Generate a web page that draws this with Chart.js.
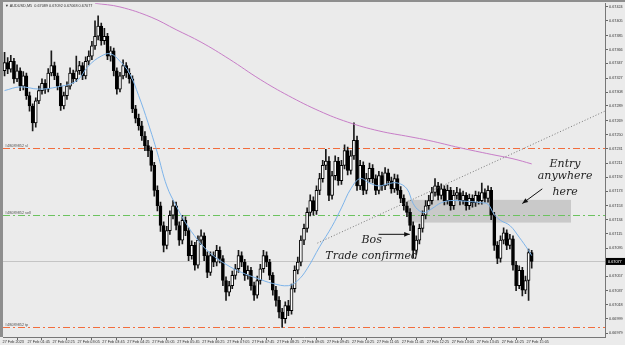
<!DOCTYPE html>
<html><head><meta charset="utf-8">
<script src="https://cdn.jsdelivr.net/npm/chart.js@4/dist/chart.umd.min.js"></script>
<style>html,body{margin:0;padding:0;background:#ebebeb;overflow:hidden}</style>
</head><body>
<canvas id="c" width="625" height="345"></canvas>
<script>
// ---------- DATA ----------
const symbolTitle = "AUDUSD,M5  0.67089 0.67092 0.67068 0.67077";
const orderId = "#48089852";
const timeLabels = ["27 Feb 2023","27 Feb 01:45","27 Feb 02:25","27 Feb 03:05","27 Feb 03:45","27 Feb 04:25","27 Feb 05:05","27 Feb 05:45","27 Feb 06:25","27 Feb 07:05","27 Feb 07:45","27 Feb 08:25","27 Feb 09:05","27 Feb 09:45","27 Feb 10:25","27 Feb 11:05","27 Feb 11:45","27 Feb 12:25","27 Feb 13:05","27 Feb 13:45","27 Feb 14:25","27 Feb 15:05"];
const yTickValues = [0.67424,0.67405,0.67385,0.67366,0.67347,0.67327,0.67308,0.67289,0.67269,0.67250,0.67231,0.67211,0.67192,0.67173,0.67153,0.67134,0.67115,0.67095,0.67076,0.67057,0.67037,0.67018,0.66999,0.66979];

const opens = [0.67337,0.67348,0.67339,0.67350,0.67326,0.67337,0.67316,0.67330,0.67303,0.67289,
0.67266,0.67296,0.67310,0.67320,0.67312,0.67334,0.67344,0.67330,0.67316,0.67289,
0.67303,0.67316,0.67334,0.67326,0.67337,0.67344,0.67330,0.67350,0.67357,0.67371,
0.67384,0.67398,0.67378,0.67384,0.67357,0.67364,0.67337,0.67312,0.67330,0.67344,
0.67334,0.67326,0.67285,0.67272,0.67262,0.67248,0.67235,0.67228,0.67208,0.67174,
0.67153,0.67126,0.67099,0.67119,0.67140,0.67153,0.67126,0.67106,0.67133,0.67119,
0.67085,0.67099,0.67072,0.67106,0.67112,0.67085,0.67062,0.67085,0.67076,0.67092,
0.67081,0.67051,0.67035,0.67044,0.67058,0.67067,0.67085,0.67076,0.67058,0.67065,
0.67044,0.67031,0.67051,0.67067,0.67085,0.67076,0.67058,0.67038,0.67024,0.67008,
0.66999,0.67017,0.67010,0.67040,0.67065,0.67076,0.67106,0.67122,0.67144,0.67160,
0.67146,0.67174,0.67190,0.67208,0.67214,0.67167,0.67194,0.67214,0.67187,0.67208,
0.67228,0.67201,0.67221,0.67242,0.67180,0.67208,0.67174,0.67190,0.67204,0.67190,
0.67174,0.67194,0.67180,0.67198,0.67187,0.67176,0.67190,0.67174,0.67163,0.67153,
0.67144,0.67126,0.67092,0.67106,0.67122,0.67140,0.67153,0.67160,0.67171,0.67180,
0.67167,0.67176,0.67160,0.67174,0.67153,0.67167,0.67171,0.67160,0.67167,0.67153,
0.67163,0.67157,0.67167,0.67160,0.67171,0.67163,0.67174,0.67140,0.67099,0.67081,
0.67106,0.67116,0.67099,0.67108,0.67072,0.67044,0.67065,0.67038,0.67051,0.67089];

const highs = [0.67362,0.67355,0.67358,0.67354,0.67345,0.67341,0.67336,0.67334,0.67308,0.67292,
0.67300,0.67316,0.67326,0.67325,0.67340,0.67364,0.67349,0.67334,0.67320,0.67308,
0.67322,0.67341,0.67338,0.67357,0.67350,0.67348,0.67356,0.67364,0.67377,0.67405,
0.67412,0.67402,0.67395,0.67388,0.67370,0.67368,0.67341,0.67335,0.67352,0.67348,
0.67340,0.67330,0.67290,0.67278,0.67268,0.67254,0.67242,0.67233,0.67212,0.67180,
0.67158,0.67131,0.67125,0.67146,0.67160,0.67158,0.67131,0.67140,0.67138,0.67123,
0.67105,0.67103,0.67112,0.67120,0.67116,0.67090,0.67090,0.67090,0.67099,0.67097,
0.67085,0.67056,0.67050,0.67064,0.67073,0.67092,0.67090,0.67080,0.67071,0.67069,
0.67049,0.67057,0.67073,0.67092,0.67090,0.67080,0.67062,0.67043,0.67029,0.67013,
0.67022,0.67024,0.67046,0.67071,0.67083,0.67112,0.67128,0.67150,0.67168,0.67165,
0.67180,0.67197,0.67215,0.67230,0.67220,0.67200,0.67221,0.67219,0.67215,0.67236,
0.67233,0.67228,0.67266,0.67248,0.67215,0.67213,0.67197,0.67211,0.67209,0.67195,
0.67200,0.67199,0.67205,0.67203,0.67192,0.67196,0.67195,0.67179,0.67168,0.67158,
0.67149,0.67131,0.67112,0.67128,0.67146,0.67160,0.67167,0.67178,0.67190,0.67185,
0.67183,0.67180,0.67181,0.67178,0.67174,0.67178,0.67176,0.67173,0.67171,0.67169,
0.67168,0.67173,0.67172,0.67184,0.67176,0.67180,0.67178,0.67144,0.67104,0.67112,
0.67123,0.67120,0.67114,0.67112,0.67077,0.67071,0.67069,0.67057,0.67094,0.67092];

const lows = [0.67330,0.67333,0.67335,0.67320,0.67322,0.67310,0.67311,0.67298,0.67282,0.67255,
0.67260,0.67292,0.67305,0.67306,0.67308,0.67330,0.67325,0.67311,0.67283,0.67285,
0.67298,0.67312,0.67320,0.67322,0.67332,0.67325,0.67326,0.67345,0.67352,0.67366,
0.67379,0.67372,0.67373,0.67352,0.67350,0.67330,0.67305,0.67308,0.67326,0.67328,
0.67320,0.67280,0.67266,0.67256,0.67242,0.67228,0.67220,0.67200,0.67166,0.67146,
0.67118,0.67090,0.67094,0.67114,0.67135,0.67120,0.67099,0.67101,0.67112,0.67078,
0.67080,0.67065,0.67068,0.67100,0.67078,0.67055,0.67058,0.67070,0.67071,0.67075,
0.67044,0.67024,0.67030,0.67040,0.67053,0.67062,0.67070,0.67051,0.67053,0.67038,
0.67024,0.67027,0.67046,0.67062,0.67070,0.67052,0.67031,0.67016,0.67000,0.66987,
0.66993,0.67003,0.67005,0.67035,0.67060,0.67071,0.67100,0.67117,0.67139,0.67140,
0.67141,0.67168,0.67185,0.67202,0.67160,0.67162,0.67188,0.67181,0.67182,0.67203,
0.67195,0.67196,0.67216,0.67174,0.67175,0.67168,0.67169,0.67185,0.67184,0.67168,
0.67169,0.67174,0.67175,0.67181,0.67170,0.67171,0.67168,0.67157,0.67147,0.67138,
0.67119,0.67082,0.67087,0.67101,0.67117,0.67135,0.67148,0.67155,0.67166,0.67161,
0.67162,0.67154,0.67155,0.67147,0.67148,0.67162,0.67154,0.67155,0.67147,0.67148,
0.67151,0.67152,0.67155,0.67155,0.67158,0.67158,0.67134,0.67092,0.67074,0.67076,
0.67101,0.67093,0.67094,0.67065,0.67037,0.67040,0.67030,0.67033,0.67024,0.67068];

const closes = [0.67348,0.67339,0.67350,0.67326,0.67337,0.67316,0.67330,0.67303,0.67289,0.67266,
0.67296,0.67310,0.67320,0.67312,0.67334,0.67344,0.67330,0.67316,0.67289,0.67303,
0.67316,0.67334,0.67326,0.67337,0.67344,0.67330,0.67350,0.67357,0.67371,0.67384,
0.67398,0.67378,0.67384,0.67357,0.67364,0.67337,0.67312,0.67330,0.67344,0.67334,
0.67326,0.67285,0.67272,0.67262,0.67248,0.67235,0.67228,0.67208,0.67174,0.67153,
0.67126,0.67099,0.67119,0.67140,0.67153,0.67126,0.67106,0.67133,0.67119,0.67085,
0.67099,0.67072,0.67106,0.67112,0.67085,0.67062,0.67085,0.67076,0.67092,0.67081,
0.67051,0.67035,0.67044,0.67058,0.67067,0.67085,0.67076,0.67058,0.67065,0.67044,
0.67031,0.67051,0.67067,0.67085,0.67076,0.67058,0.67038,0.67024,0.67008,0.66999,
0.67017,0.67010,0.67040,0.67065,0.67076,0.67106,0.67122,0.67144,0.67160,0.67146,
0.67174,0.67190,0.67208,0.67214,0.67167,0.67194,0.67214,0.67187,0.67208,0.67228,
0.67201,0.67221,0.67242,0.67180,0.67208,0.67174,0.67190,0.67204,0.67190,0.67174,
0.67194,0.67180,0.67198,0.67187,0.67176,0.67190,0.67174,0.67163,0.67153,0.67144,
0.67126,0.67092,0.67106,0.67122,0.67140,0.67153,0.67160,0.67171,0.67180,0.67167,
0.67176,0.67160,0.67174,0.67153,0.67167,0.67171,0.67160,0.67167,0.67153,0.67163,
0.67157,0.67167,0.67160,0.67171,0.67163,0.67174,0.67140,0.67099,0.67081,0.67106,
0.67116,0.67099,0.67108,0.67072,0.67044,0.67065,0.67038,0.67051,0.67089,0.67077];

// moving averages (bar index -> value)
const maSlowBars = [29,37,47,55,63,72,82,91,101,110,120,130,136,146,156,163,169];
const maSlowVals = [0.67429,0.67424,0.67410,0.67393,0.67376,0.67353,0.67325,0.67303,0.67282,0.67267,0.67255,0.67247,0.67242,0.67232,0.67223,0.67217,0.67210];
const maFastBars = [0,5,11,17,23,27,31,34,37,40,43,46,49,52,55,58,62,66,71,76,81,86,91,94,97,101,105,108,111,114,117,120,123,126,129,131,133,135,137,140,143,148,153,155,157,159,162,165,168,169];
const maFastVals = [0.67310,0.67315,0.67312,0.67315,0.67323,0.67344,0.67357,0.67360,0.67350,0.67334,0.67303,0.67266,0.67225,0.67180,0.67153,0.67130,0.67106,0.67088,0.67073,0.67062,0.67054,0.67047,0.67044,0.67051,0.67067,0.67097,0.67125,0.67150,0.67176,0.67190,0.67184,0.67180,0.67183,0.67184,0.67176,0.67156,0.67146,0.67144,0.67149,0.67157,0.67160,0.67159,0.67157,0.67155,0.67141,0.67133,0.67126,0.67110,0.67092,0.67085];

const slPrice = 0.67232, entryPrice = 0.67141, tpPrice = 0.66987, bidPrice = 0.67077;
const totalSlots = 193;
const zoneBox = {barFrom:129.2, barTo:181.6, top:0.67161, bottom:0.67130};
const trendLine = {bar1:100.3, p1:0.67102, bar2:192.5, p2:0.67282};

// ---------- CHART ----------
const slotLabels = Array.from({length: totalSlots}, (_, i) => i);
const isBull = closes.map((c, i) => c >= opens[i]);

const SMALL = "3.8px 'Liberation Sans'";
const HAND = "italic 11px 'DejaVu Serif'";

function px(chart, bar, price){ return [chart.scales.x.getPixelForValue(bar), chart.scales.y.getPixelForValue(price)]; }

function arrow(ctx, x1, y1, x2, y2){
  ctx.beginPath(); ctx.moveTo(x1,y1); ctx.lineTo(x2,y2); ctx.stroke();
  const a = Math.atan2(y2-y1, x2-x1), L = 6, W = 0.4;
  ctx.beginPath(); ctx.moveTo(x2,y2);
  ctx.lineTo(x2 - L*Math.cos(a-W), y2 - L*Math.sin(a-W));
  ctx.lineTo(x2 - L*Math.cos(a+W), y2 - L*Math.sin(a+W));
  ctx.closePath(); ctx.fill();
}

const overlay = {
  id: 'overlay',
  beforeDraw(chart){
    const ctx = chart.ctx; ctx.save();
    ctx.fillStyle = '#ebebeb'; ctx.fillRect(0,0,chart.width,chart.height);
    ctx.fillStyle = '#8e8e8e'; ctx.fillRect(0,0,3,chart.chartArea.bottom); ctx.fillRect(0,0,chart.width,2);
    ctx.restore();
  },
  beforeDatasetsDraw(chart){
    const ctx = chart.ctx, a = chart.chartArea; ctx.save();
    // zone
    const [zx1, zy1] = px(chart, zoneBox.barFrom, zoneBox.top);
    const [zx2, zy2] = px(chart, zoneBox.barTo, zoneBox.bottom);
    ctx.fillStyle = '#c9c9c9'; ctx.fillRect(zx1, zy1, zx2-zx1, zy2-zy1);
    // bid line
    const yb = Math.round(chart.scales.y.getPixelForValue(bidPrice)) + 0.5;
    ctx.strokeStyle = '#c4c4c4'; ctx.lineWidth = 1;
    ctx.beginPath(); ctx.moveTo(a.left, yb); ctx.lineTo(a.right, yb); ctx.stroke();
    // order lines
    const lines = [[slPrice,'#f26d3d',' sl'],[entryPrice,'#6cc35f',' sell'],[tpPrice,'#f26d3d',' tp']];
    lines.forEach(([p,col,tag])=>{
      const y = Math.round(chart.scales.y.getPixelForValue(p)) + 0.5;
      ctx.setLineDash([7,3,2,3]); ctx.lineDashOffset = 0;
      ctx.strokeStyle = col; ctx.lineWidth = 1;
      ctx.beginPath(); ctx.moveTo(a.left, y); ctx.lineTo(a.right, y); ctx.stroke();
      ctx.setLineDash([]);
      ctx.fillStyle = '#555'; ctx.font = SMALL; ctx.textBaseline = 'bottom';
      ctx.fillText(orderId + tag, a.left + 2, y - 1);
    });
    ctx.restore();
  },
  afterDatasetsDraw(chart){
    const ctx = chart.ctx; ctx.save();
    // trend line
    const [tx1, ty1] = px(chart, trendLine.bar1, trendLine.p1);
    const [tx2, ty2] = px(chart, trendLine.bar2, trendLine.p2);
    ctx.strokeStyle = '#777'; ctx.lineWidth = 1; ctx.setLineDash([1,2]);
    ctx.beginPath(); ctx.moveTo(tx1,ty1); ctx.lineTo(tx2,ty2); ctx.stroke();
    ctx.setLineDash([]);
    // arrows
    ctx.strokeStyle = '#111'; ctx.fillStyle = '#111'; ctx.lineWidth = 1;
    let p1 = px(chart, 119.9, 0.67114), p2 = px(chart, 129.9, 0.67114);
    arrow(ctx, p1[0], p1[1], p2[0], p2[1]);
    p1 = px(chart, 172.4, 0.67176); p2 = px(chart, 166.0, 0.67156);
    arrow(ctx, p1[0], p1[1], p2[0], p2[1]);
    // texts
    ctx.font = HAND; ctx.textAlign = 'center'; ctx.textBaseline = 'middle'; ctx.fillStyle = '#222';
    const notes = [["Bos",117.7,0.67106],["Trade confirmed",117.7,0.67084],["Entry",179.7,0.67210],["anywhere",179.7,0.67193],["here",179.7,0.67172]];
    notes.forEach(([t,b,p])=>{ const q = px(chart,b,p); ctx.fillText(t, q[0], q[1]); });
    // title
    ctx.textAlign = 'left'; ctx.font = SMALL; ctx.fillStyle = '#333';
    ctx.fillText("\u25BC " + symbolTitle, 5, 6);
    ctx.restore();
  },
  afterDraw(chart){
    const ctx = chart.ctx; ctx.save();
    const y = chart.scales.y.getPixelForValue(bidPrice);
    ctx.fillStyle = '#000'; ctx.fillRect(chart.chartArea.right+1, y-3.5, 20, 7);
    ctx.fillStyle = '#fff'; ctx.font = SMALL; ctx.textBaseline = 'middle'; ctx.textAlign='left';
    ctx.fillText(bidPrice.toFixed(5), chart.chartArea.right + 3, y);
    ctx.restore();
  }
};

new Chart(document.getElementById('c'), {
  type: 'bar',
  data: {
    labels: slotLabels,
    datasets: [
      { type:'line', label:'MA slow', data: maSlowBars.map((b,i)=>({x:b, y:maSlowVals[i]})), borderColor:'#c77dc7', borderWidth:1, pointRadius:0, tension:0.4, order:0 },
      { type:'line', label:'MA fast', data: maFastBars.map((b,i)=>({x:b, y:maFastVals[i]})), borderColor:'#7db4ea', borderWidth:1, pointRadius:0, tension:0.4, order:0 },
      { label:'body', data: opens.map((o,i)=>[o, closes[i]]), backgroundColor: isBull.map(b=> b ? '#ffffff' : '#000000'), borderColor:'#000', borderWidth:1, borderSkipped:false, barThickness:3, grouped:false, order:1 },
      { label:'wick', data: lows.map((l,i)=>[l, highs[i]]), backgroundColor:'#1a1a1a', barThickness:1, grouped:false, order:2 }
    ]
  },
  options: {
    responsive:false, animation:false, devicePixelRatio:1,
    layout:{ padding:{ left:3, top:2, right:0, bottom:0 } },
    plugins:{ legend:{display:false}, tooltip:{enabled:false} },
    scales:{
      x:{
        type:'category', offset:true,
        grid:{ drawOnChartArea:false, drawTicks:true, tickLength:3, color:'#666' },
        border:{ display:true, color:'#777' },
        ticks:{ autoSkip:false, maxRotation:0, minRotation:0, align:'start', padding:0, labelOffset:-2,
          font:{ size:3.8, family:"Liberation Sans" }, color:'#333',
          callback:(v)=> timeLabels[v/8] },
        afterBuildTicks:(s)=>{ s.ticks = s.ticks.filter(t => t.value % 8 === 0 && t.value/8 < timeLabels.length); },
        afterFit:(s)=>{ s.height = 8; }
      },
      y:{
        position:'right', min:0.66974, max:0.67429,
        grid:{ drawOnChartArea:false, drawTicks:true, tickLength:3, color:'#666' },
        border:{ display:true, color:'#777' },
        ticks:{ font:{ size:3.8, family:"Liberation Sans" }, color:'#333', padding:1, callback:(v)=> v.toFixed(5) },
        afterBuildTicks:(s)=>{ s.ticks = yTickValues.map(v=>({value:v})); },
        afterFit:(s)=>{ s.width = 20; }
      }
    }
  },
  plugins:[overlay]
});
</script>
</body></html>
